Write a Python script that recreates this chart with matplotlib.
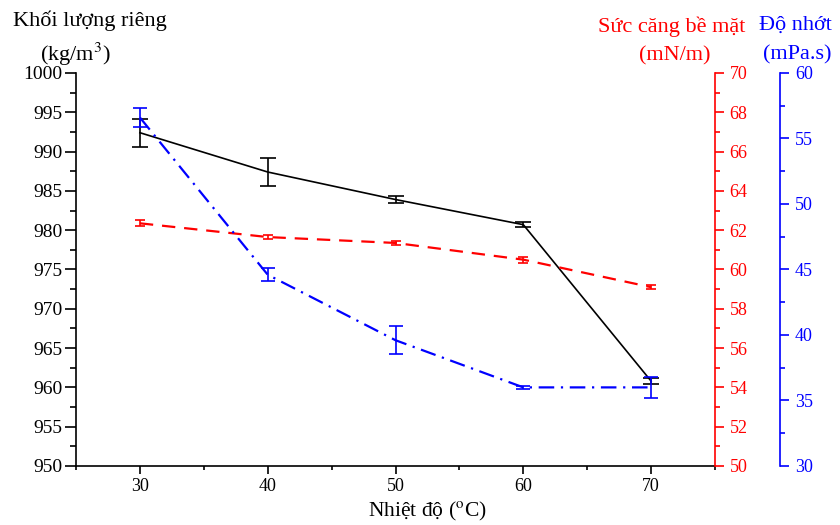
import numpy as np
import matplotlib.pyplot as plt
from matplotlib.ticker import MultipleLocator

plt.rcParams['font.family'] = ['Liberation Serif', 'DejaVu Serif']
plt.rcParams['mathtext.fontset'] = 'stix'

# temperature (°C)
temp = [30, 40, 50, 60, 70]

# density (kg/m3)
density = [992.4, 987.4, 983.9, 980.7, 960.8]
density_err = [1.8, 1.8, 0.4, 0.3, 0.4]

# surface tension (mN/m)
tension = [62.35, 61.65, 61.35, 60.5, 59.1]
tension_err = [0.15, 0.1, 0.12, 0.15, 0.1]

# viscosity (mPa.s)
viscosity = [56.6, 44.6, 39.6, 36.0, 36.0]
viscosity_err = [0.75, 0.5, 1.05, 0.1, 0.8]

RED = '#ff0000'
BLUE = '#0000ff'

fig = plt.figure(figsize=(8.4, 5.25), dpi=100)
ax = fig.add_axes([0.0905, 0.1124, 0.7607, 0.7486])
ax2 = ax.twinx()
ax3 = ax.twinx()

ax.errorbar(temp, density, yerr=density_err, color='black', lw=1.2,
            capsize=6, capthick=1.2, elinewidth=1.2, zorder=3)
ax2.errorbar(temp, tension, yerr=tension_err, color=RED, lw=1.6, ls=(0, (6, 4)),
             capsize=3.5, capthick=1.2, elinewidth=1.2)
ax3.errorbar(temp, viscosity, yerr=viscosity_err, color=BLUE, lw=1.6,
             ls=(0, (7, 3, 1, 3)), capsize=5, capthick=1.2, elinewidth=1.2)

ax.set_xlim(25, 75)
ax.set_ylim(950, 1000)
ax2.set_ylim(50, 70)
ax3.set_ylim(30, 60)

ax.xaxis.set_major_locator(MultipleLocator(10))
ax.xaxis.set_minor_locator(MultipleLocator(5))
ax.yaxis.set_major_locator(MultipleLocator(5))
ax.yaxis.set_minor_locator(MultipleLocator(2.5))
ax2.yaxis.set_major_locator(MultipleLocator(2))
ax2.yaxis.set_minor_locator(MultipleLocator(1))
ax3.yaxis.set_major_locator(MultipleLocator(5))
ax3.yaxis.set_minor_locator(MultipleLocator(2.5))

for a in (ax, ax2, ax3):
    a.spines['top'].set_visible(False)
    a.tick_params(which='major', length=6.5, width=1.2, direction='out', labelsize=13)
    a.tick_params(which='minor', length=3.6, width=1.2, direction='out')

ax.spines['right'].set_visible(False)
ax.spines['left'].set_linewidth(1.2)
ax.spines['bottom'].set_linewidth(1.2)
ax.tick_params(axis='x', which='major', length=6, pad=3, labelsize=13)
ax.tick_params(axis='x', which='minor', length=3)
ax.tick_params(axis='y', which='major', length=8, pad=2, labelsize=14)
ax.tick_params(axis='y', which='minor', length=4.3)

ax2.spines['left'].set_visible(False)
ax2.spines['bottom'].set_visible(False)
ax2.spines['right'].set_color(RED)
ax2.spines['right'].set_linewidth(1.2)
ax2.tick_params(axis='y', which='both', colors=RED, pad=4)

ax3.spines['left'].set_visible(False)
ax3.spines['bottom'].set_visible(False)
ax3.spines['right'].set_position(('axes', 1.102))
ax3.spines['right'].set_color(BLUE)
ax3.spines['right'].set_linewidth(1.2)
ax3.tick_params(axis='y', which='both', colors=BLUE, pad=4)

fig.text(427 / 840, 1 - 511 / 525, r'Nhiệt độ ($^{\mathrm{o}}$C)', fontsize=15.5,
         ha='center', va='center')

lab = 16
fig.text(13 / 840, 1 - 21 / 525, 'Khối lượng riêng', fontsize=lab, ha='left', va='center')
fig.text(75 / 840, 1 - 54 / 525, r'(kg/m$^{3}$)', fontsize=lab, ha='center', va='center')
fig.text(745 / 840, 1 - 27 / 525, 'Sức căng bề mặt', fontsize=lab, color=RED, ha='right', va='center')
fig.text(675 / 840, 1 - 56 / 525, '(mN/m)', fontsize=lab, color=RED, ha='center', va='center')
fig.text(759 / 840, 1 - 25 / 525, 'Độ nhớt', fontsize=lab, color=BLUE, ha='left', va='center')
fig.text(797 / 840, 1 - 55 / 525, '(mPa.s)', fontsize=lab, color=BLUE, ha='center', va='center')

fig.savefig('out.png', dpi=100)
